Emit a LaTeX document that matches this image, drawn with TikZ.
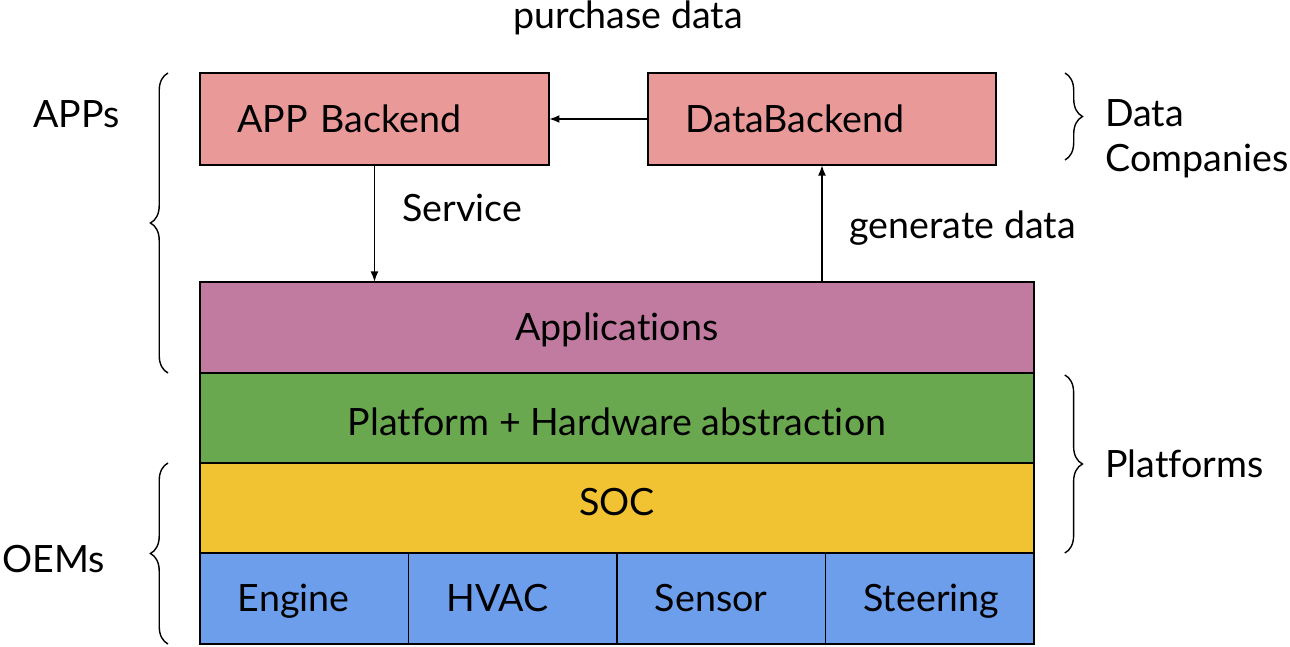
\documentclass[tikz,border=0pt]{standalone}
\usepackage{fontspec}
\setmainfont[Ligatures=NoCommon]{Lato}
\usetikzlibrary{arrows.meta,decorations.pathreplacing}

\definecolor{backendred}{HTML}{EA9999}
\definecolor{appmagenta}{HTML}{C27BA0}
\definecolor{platgreen}{HTML}{6AA84F}
\definecolor{socyellow}{HTML}{F1C232}
\definecolor{oemblue}{HTML}{6D9EEB}

\begin{document}
\begin{tikzpicture}[x=0.02cm,y=-0.02cm,
  font=\fontsize{21.4}{25}\selectfont,
  box/.style={draw,line width=1pt,inner sep=0pt,outer sep=0pt,anchor=north west,text height=15pt,text depth=0pt},
  leftbox/.style={box,align=left,inner xsep=0.75cm},
  lbl/.style={inner sep=0pt,anchor=base west},
  link/.style={-{Latex[length=6pt,width=4.5pt]},line width=1pt},
  bracket/.style={decorate,decoration={brace,amplitude=10pt},line width=0.8pt}]
\def\rowh{1.82cm}
\def\cellw{2.65cm}
\useasboundingbox (0,0) rectangle (1290,646);

\node[leftbox,fill=backendred,text width=5.48cm,minimum height=1.84cm] (app) at (200,73) {APP Backend};
\node[leftbox,fill=backendred,text width=5.46cm,minimum height=1.84cm] (data) at (648,73) {DataBackend};

\node[box,fill=appmagenta,minimum width=16.68cm,minimum height=\rowh] (apps) at (200,282) {Applications};
\node[box,fill=platgreen,minimum width=16.68cm,minimum height=1.8cm,text height=20.4pt] (plat) at (200,373) {Platform + Hardware abstraction};
\node[box,fill=socyellow,minimum width=16.68cm,minimum height=1.8cm,text depth=7pt] (soc) at (200,463) {SOC};

\node[leftbox,fill=oemblue,text width=\cellw,minimum height=\rowh,inner xsep=0.76cm] (engine) at (200,553) {Engine};
\node[leftbox,fill=oemblue,text width=\cellw,minimum height=\rowh,inner xsep=0.76cm] (hvac) at (engine.north east) {HVAC};
\node[leftbox,fill=oemblue,text width=\cellw,minimum height=\rowh,inner xsep=0.76cm] (sensor) at (hvac.north east) {Sensor};
\node[leftbox,fill=oemblue,text width=\cellw,minimum height=\rowh,inner xsep=0.76cm] (steering) at (sensor.north east) {Steering};

\draw[link] (data.west) -- (app.east);
\draw[link] (app.south) -- (app.south |- apps.north);
\draw[link] (data.south |- apps.north) -- (data.south);

\node[inner sep=0pt,anchor=base] (purchase) at (628,28) {purchase data};
\node[lbl] (service) at (402,221) {Service};
\node[lbl] (generate) at (849,238) {generate data};

\draw[bracket] ([xshift=-0.64cm]apps.south west) -- ([xshift=-0.64cm]app.north west);
\draw[bracket] ([xshift=-0.64cm]engine.south west) -- ([xshift=-0.64cm]soc.north west);
\draw[bracket] ([xshift=1.38cm]data.north east) -- ([xshift=1.38cm,yshift=0.1cm]data.south east);
\draw[bracket] ([xshift=0.62cm,yshift=-0.04cm]plat.north east) -- ([xshift=0.62cm]soc.south east);

\node[lbl] (appslbl) at (33,127) {APPs};
\node[lbl] (oemslbl) at (2,572) {OEMs};
\node[lbl] (datalbl) at (1105,126) {Data};
\node[lbl] (complbl) at (1105,171) {Companies};
\node[lbl] (platlbl) at (1105,477) {Platforms};
\end{tikzpicture}
\end{document}
